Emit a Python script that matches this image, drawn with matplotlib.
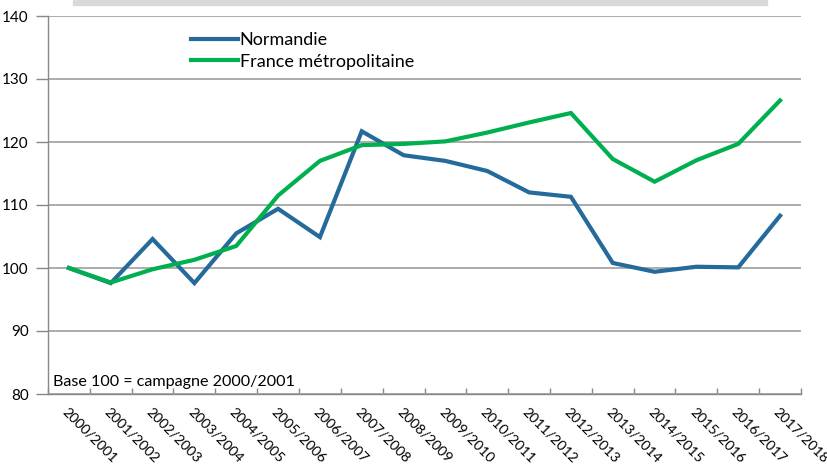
import matplotlib.pyplot as plt
import matplotlib.patches as mpatches

campagnes = ['2000/2001', '2001/2002', '2002/2003', '2003/2004', '2004/2005',
             '2005/2006', '2006/2007', '2007/2008', '2008/2009', '2009/2010',
             '2010/2011', '2011/2012', '2012/2013', '2013/2014', '2014/2015',
             '2015/2016', '2016/2017', '2017/2018']
normandie = [100, 97.6, 104.6, 97.6, 105.5, 109.4, 104.9, 121.7, 117.9, 117.0,
             115.4, 112.0, 111.3, 100.8, 99.4, 100.2, 100.1, 108.3]
france = [100, 97.7, 99.8, 101.3, 103.5, 111.5, 117.0, 119.5, 119.7, 120.1,
          121.5, 123.1, 124.6, 117.3, 113.7, 117.1, 119.7, 126.6]

plt.rcParams['font.family'] = ['Lato', 'DejaVu Sans']

fig = plt.figure(figsize=(8.27, 4.68), dpi=100)
# grey header band at the top
fig.patches.append(mpatches.Rectangle((73 / 827, 1 - 5 / 468), 694 / 827, 5 / 468,
                                      transform=fig.transFigure, color='#d9d9d9'))
ax = fig.add_axes([48 / 827, 74 / 468, 753 / 827, 378 / 468])

x = list(range(len(campagnes)))
ax.plot(x, normandie, color='#246a9b', lw=3, label='Normandie', solid_joinstyle='miter')
ax.plot(x, france, color='#00b050', lw=3, label='France métropolitaine', solid_joinstyle='miter')

ax.set_xlim(-0.5, len(campagnes) - 0.5)
ax.set_ylim(80, 140)
ax.set_yticks(range(80, 141, 10))
ax.yaxis.grid(True, color='#a6a6a6', lw=1.3)
ax.set_axisbelow(True)

ax.set_xticks([i - 0.5 for i in range(len(campagnes) + 1)], minor=False)
ax.set_xticklabels([])
ax.set_xticks(x, minor=True)
ax.set_xticklabels(campagnes, minor=True, rotation=-45, ha='left', va='top',
                   rotation_mode='anchor', fontsize=10.2)
ax.tick_params(axis='x', which='major', direction='in', length=4, color='#888888', width=1)
ax.tick_params(axis='x', which='minor', length=0, pad=8)
ax.tick_params(axis='y', direction='out', length=9, color='#888888', width=1,
               labelsize=11, pad=5)

for s in ['top', 'right']:
    ax.spines[s].set_visible(False)
for s in ['left', 'bottom']:
    ax.spines[s].set_color('#888888')
    ax.spines[s].set_linewidth(1)

ax.text(0.006, 0.012, 'Base 100 = campagne 2000/2001', transform=ax.transAxes,
        fontsize=11.6, ha='left', va='bottom')

ax.legend(loc='upper left', bbox_to_anchor=(0.168, 1.0), frameon=False,
          fontsize=13, handlelength=2.6, handletextpad=0.1, labelspacing=0.3)

fig.savefig('out.png', dpi=100)
